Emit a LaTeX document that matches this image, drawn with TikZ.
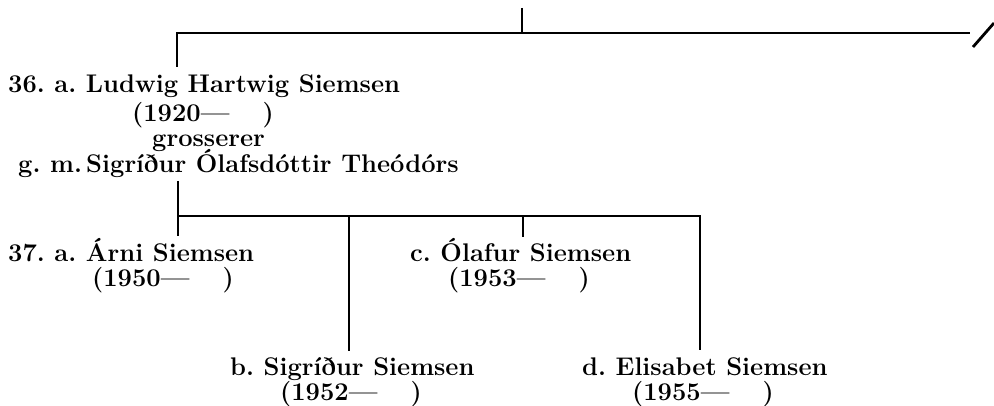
\documentclass[tikz,border=0pt]{standalone}
\usepackage{fontspec}
\usetikzlibrary{positioning}

\begin{document}
\frenchspacing
\begin{tikzpicture}[
		x=1pt, y=-1pt,
		font=\fontsize{25.5}{30}\selectfont\bfseries,
		every node/.style={anchor=base west, inner sep=0pt},
		line/.style={line width=2.8pt}
		]
		\useasboundingbox (0,0) rectangle (994,406);
		
		% Generation 36
		\node (ludwig) at (8,93) {36. a. Ludwig Hartwig Siemsen};
		\node (ludwigyrs) at (132,122) {(1920---\hspace{1.3em})};
		\node (occupation) at (152,147) {grosserer};
		\node (spouse) at (18,173) {g. m.\,Sigríður Ólafsdóttir Theódórs};
		
		% Generation 37
		\node (arni) at (8,262) {37. a. Árni Siemsen};
		\node (arniyrs) at (92,287) {(1950---\hspace{1.3em})};
		\node (olafur) at (410,262) {c. Ólafur Siemsen};
		\node (olafuryrs) at (448,287) {(1953---\hspace{1.3em})};
		\node (sigridur) at (230,375) {b. Sigríður Siemsen};
		\node (sigriduryrs) at (280,400) {(1952---\hspace{1.3em})};
		\node (elisabet) at (582,375) {d. Elisabet Siemsen};
		\node (elisabetyrs) at (632,400) {(1955---\hspace{1.3em})};
		
		% Junctions
		\coordinate (parent) at (522,8);
		\coordinate (top) at (522,33);
		\coordinate (topL) at (177,33);
		\coordinate (topR) at (970,33);
		\coordinate (ludwigin) at (177,67);
		\coordinate (slashA) at (973,47);
		\coordinate (slashB) at (994,23);
		\coordinate (famout) at (178,181);
		\coordinate (famL) at (178,216);
		\coordinate (famR) at (700,216);
		\coordinate (arniin) at (178,236);
		\coordinate (famB) at (349,216);
		\coordinate (sigridurin) at (349,351);
		\coordinate (famC) at (523,216);
		\coordinate (olafurin) at (523,237);
		\coordinate (elisabetin) at (700,350);
		
		% Lines
		\draw[line] (parent) -- (top);
		\draw[line] (ludwigin) -- (topL) -- (topR);
		\draw[line] (slashA) -- (slashB);
		\draw[line] (famout) -- (arniin);
		\draw[line] (famL) -- (famR) -- (elisabetin);
		\draw[line] (famB) -- (sigridurin);
		\draw[line] (famC) -- (olafurin);
		
	\end{tikzpicture}
\end{document}
